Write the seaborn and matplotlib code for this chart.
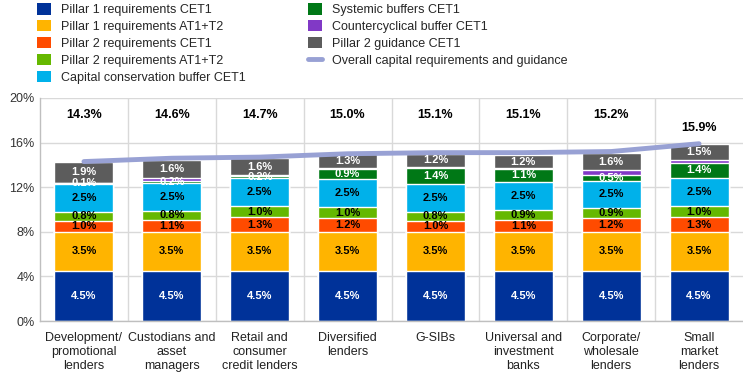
import numpy as np
import matplotlib
matplotlib.use("Agg")
import matplotlib.pyplot as plt
import seaborn as sns
from matplotlib.patches import Patch
from matplotlib.lines import Line2D

categories = ["Development/\npromotional\nlenders", "Custodians and\nasset\nmanagers",
              "Retail and\nconsumer\ncredit lenders", "Diversified\nlenders", "G-SIBs",
              "Universal and\ninvestment\nbanks", "Corporate/\nwholesale\nlenders",
              "Small\nmarket\nlenders"]

p1_cet1 = [4.5, 4.5, 4.5, 4.5, 4.5, 4.5, 4.5, 4.5]
p1_at1t2 = [3.5, 3.5, 3.5, 3.5, 3.5, 3.5, 3.5, 3.5]
p2_cet1 = [1.0, 1.1, 1.3, 1.2, 1.0, 1.1, 1.2, 1.3]
p2_at1t2 = [0.8, 0.8, 1.0, 1.0, 0.8, 0.9, 0.9, 1.0]
ccb = [2.5, 2.5, 2.5, 2.5, 2.5, 2.5, 2.5, 2.5]
systemic = [0.1, 0.2, 0.2, 0.9, 1.4, 1.1, 0.5, 1.4]
ccyb = [0.0, 0.2, 0.05, 0.1, 0.1, 0.1, 0.4, 0.2]
p2g = [1.9, 1.6, 1.6, 1.3, 1.2, 1.2, 1.6, 1.5]
overall = [14.3, 14.6, 14.7, 15.0, 15.1, 15.1, 15.2, 15.9]

series = [
    ("Pillar 1 requirements CET1", p1_cet1, "#003299", "white", True),
    ("Pillar 1 requirements AT1+T2", p1_at1t2, "#FFB400", "black", True),
    ("Pillar 2 requirements CET1", p2_cet1, "#FF4B00", "black", True),
    ("Pillar 2 requirements AT1+T2", p2_at1t2, "#65B800", "black", True),
    ("Capital conservation buffer CET1", ccb, "#00B1EA", "black", True),
    ("Systemic buffers CET1", systemic, "#007816", "white", True),
    ("Countercyclical buffer CET1", ccyb, "#8139C6", "white", False),
    ("Pillar 2 guidance CET1", p2g, "#5C5C5C", "white", True),
]
line_color = "#98A1D4"

sns.set_style("white")
plt.rcParams["font.family"] = ["Liberation Sans", "DejaVu Sans"]

fig = plt.figure(figsize=(7.43, 3.92), dpi=100)
ax = fig.add_axes([40 / 743, 1 - 321 / 392, 703 / 743, 223 / 392])

x = np.arange(len(categories))
vals = np.array([s[1] for s in series])
cum = np.cumsum(vals, axis=0)

# stacked bars: draw tallest cumulative first
for i in range(len(series) - 1, -1, -1):
    sns.barplot(x=x, y=cum[i], color=series[i][2], width=0.67,
                saturation=1, ax=ax, zorder=2)

for i, (name, v, col, tcol, show) in enumerate(series):
    if not show:
        continue
    bottoms = cum[i] - vals[i]
    for j in range(len(categories)):
        ax.text(x[j], bottoms[j] + vals[i][j] / 2, f"{vals[i][j]:.1f}%",
                ha="center", va="center", fontsize=8, fontweight="bold",
                color=tcol, zorder=5)

sns.lineplot(x=x, y=overall, color=line_color, linewidth=3.5, ax=ax, zorder=4)

for j, t in enumerate(overall):
    ty = 18.5 if t < 15.5 else t + 1.4
    ax.text(x[j], ty, f"{t:.1f}%", ha="center", va="center", fontsize=9,
            fontweight="bold", color="black")

ax.set_xlim(-0.5, len(categories) - 0.5)
ax.set_ylim(0, 20)
ax.set_yticks(np.arange(0, 21, 4))
ax.set_yticklabels([f"{v}%" for v in range(0, 21, 4)], fontsize=9, color="#333333")
ax.set_xticks(x)
ax.set_xticklabels(categories, fontsize=9, color="#222222", linespacing=1.2)
for lbl in ax.get_xticklabels():
    lbl.set_multialignment("center")
ax.set_xticks(np.arange(0.5, len(categories) - 0.5, 1), minor=True)
ax.tick_params(axis="x", which="major", length=0, pad=8)
ax.tick_params(axis="x", which="minor", length=4, color="#BFBFBF", direction="out")
ax.tick_params(axis="y", length=0, pad=4)
ax.set_xlabel("")
ax.set_ylabel("")
ax.grid(True, axis="y", color="#D9D9D9", linewidth=1, zorder=0)
ax.grid(True, axis="x", which="minor", color="#D9D9D9", linewidth=1, zorder=0)
ax.set_axisbelow(True)
for side in ["top", "right"]:
    ax.spines[side].set_visible(False)
for side in ["left", "bottom"]:
    ax.spines[side].set_color("#BFBFBF")
    ax.spines[side].set_linewidth(1)

handles = [Patch(facecolor=s[2], edgecolor="none", label=s[0]) for s in series]
handles.append(Line2D([0], [0], color=line_color, linewidth=3.5,
                      label="Overall capital requirements and guidance"))
fig.legend(handles=handles, ncol=2, loc="upper left", bbox_to_anchor=(0.035, 1.02),
           frameon=False, fontsize=9, handlelength=1.1, handleheight=1.0,
           handletextpad=0.8, labelspacing=0.32, columnspacing=5.0)

fig.savefig("out.png", dpi=100)
